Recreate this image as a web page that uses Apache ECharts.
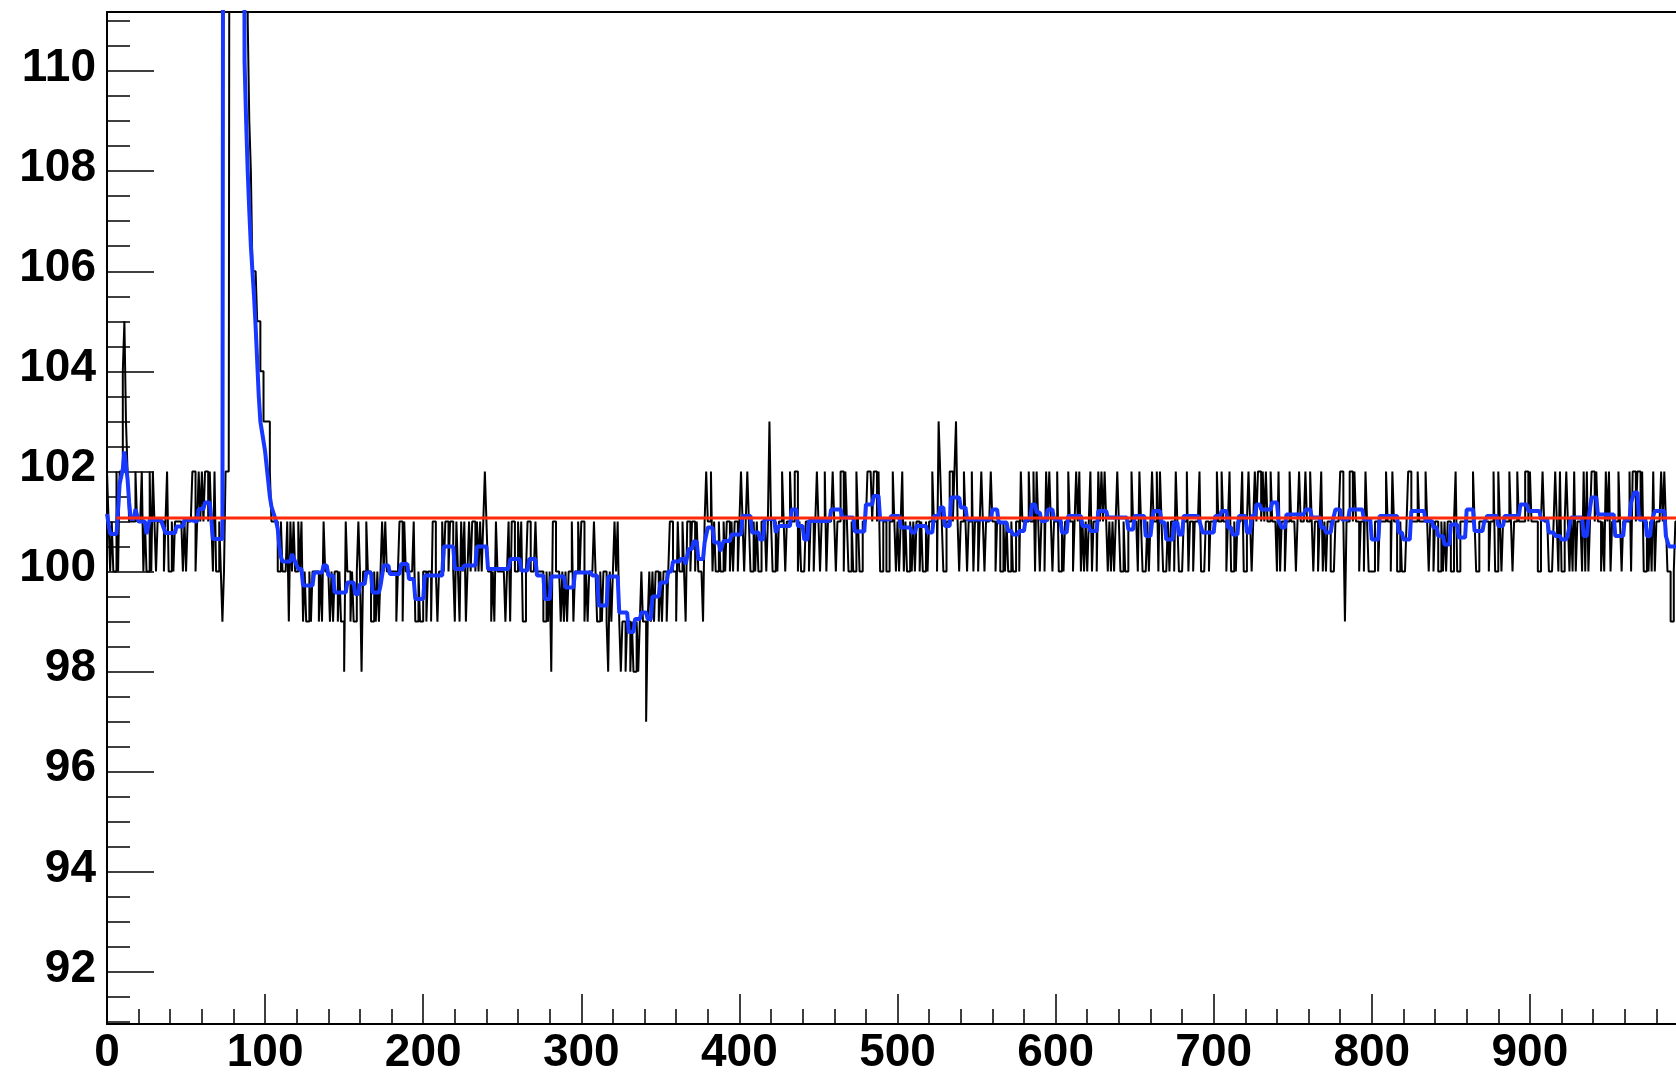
<!DOCTYPE html>
<html>
<head>
<meta charset="utf-8">
<title>baseline</title>
<script src="https://cdn.jsdelivr.net/npm/echarts@6/dist/echarts.min.js"></script>
<style>
  html, body { margin: 0; padding: 0; background: #fff; }
  #chart { width: 1676px; height: 1076px; }
</style>
</head>
<body>
<div id="chart"></div>
<script>
// black histogram, one char per bin (spaces ignored): value = 96 + base36 digit
// '4' = 100, '5' = 101, '6' = 102 ... 'f' = 111, 'z' = off scale
const blackRows = [
  [0,   '6545446466 8976555565 5564544646 5455554564 4545555545 4555664565 6566565464 45434666zz zzzzzzzzzf dcaaa99887'],
  [100, '7776555544 5444535454 4545343343 4444343544 4343443433 2544343345 4244544334 3434545444 4443455354 4444533433'],
  [200, '4434435543 4454554554 3543545345 4554545456 5443435444 4434535544 5453345544 4544443343 4255444343 4344534454'],
  [300, '5534344454 3343443243 4545323323 3232232343 3134343443 4344345544 3544543554 5545444356 5564544544 5455454554'],
  [400, '5654565445 4544555457 5445455654 5565566454 4455455456 5455645556 5455664654 4544654455 5666566564 4554455654'],
  [500, '5456454454 5455454454 5565547654 4556656754 5565455645 5456545556 5545544545 4454455465 5556556465 4554656545'],
  [600, '5644545565 5456564545 4564554656 5654545456 5445445565 5546544454 5655646544 4545546544 4556455455 5644455455'],
  [700, '5565565545 6445455564 4565456566 5656556555 4645545565 5545655565 5654554564 5455444555 6653556656 5545546544'],
  [800, '4455455556 5546554454 4456655556 5555654554 5544545455 4456445555 5555654455 5555455644 6545555654 5565555665'],
  [900, '6555544565 5544456546 4456545464 5554646456 6565545465 6455556545 5556466566 5644545464 5556565443 345']
];

// smoothed curve: [bin, value] where the level changes
const blueSteps = [
  [0,101.15],[2,100.75],[7,101.25],[8,101.75],[10,102.05],[11,102.4],[13,101.85],[14,101.38],[15,101.05],
  [18,101.25],[20,101.0],[25,100.75],[27,101.03],[35,100.95],[37,100.77],[44,100.9],[49,101.03],[54,101.0],
  [58,101.25],[62,101.38],[66,101.03],[67,100.65],[74,130],[87,110.2],[88,109],[89,108],[90,107.2],[91,106.5],
  [92,106],[93,105.5],[94,104.9],[95,104.2],[96,103.5],[97,103],[98,102.8],[99,102.6],[100,102.4],[101,102.1],
  [102,101.8],[103,101.5],[104,101.3],[105,101.2],[107,101.0],[108,100.85],[109,100.5],[110,100.3],[111,100.2],
  [117,100.35],[119,100.2],[121,100.05],[124,99.72],[131,99.98],[137,100.12],[140,99.92],[144,99.58],[152,99.78],
  [157,99.55],[160,99.75],[164,99.98],[168,99.58],[173,99.72],[175,100.12],[179,99.95],[186,100.15],[191,99.85],
  [195,99.45],[201,99.92],[213,100.5],[220,100.05],[226,100.12],[234,100.5],[241,100.05],[255,100.25],[262,100.02],
  [267,100.25],[272,99.92],[277,99.45],[281,99.9],[290,99.68],[296,99.98],[307,99.92],[311,99.32],[317,99.9],
  [324,99.18],[330,98.79],[334,99.05],[338,99.18],[342,99.05],[345,99.5],[350,99.78],[355,100.0],[358,100.2],
  [363,100.25],[366,100.15],[368,100.45],[371,100.6],[374,100.25],[378,100.58],[380,100.88],[384,100.58],
  [388,100.41],[390,100.61],[395,100.74],[402,101.11],[408,100.78],[413,100.64],[416,101.05],[423,100.78],
  [425,100.91],[433,101.24],[437,100.91],[441,100.64],[444,101.01],[458,101.24],[465,101.08],[473,100.8],
  [480,101.34],[485,101.51],[489,101.04],[496,101.11],[502,100.88],[509,100.78],[512,100.91],[519,100.78],
  [523,101.11],[527,101.28],[530,100.91],[534,101.48],[540,101.28],[544,101.04],[560,101.24],[564,100.98],
  [570,100.81],[573,100.74],[577,100.81],[581,101.04],[585,101.34],[588,101.18],[591,101.01],[595,101.24],
  [599,101.04],[604,100.78],[608,101.11],[617,100.91],[622,100.81],[627,101.21],[633,101.08],[646,100.84],
  [650,101.11],[657,100.71],[661,101.0],[662,101.21],[667,100.98],[670,100.64],[675,100.98],[678,100.74],
  [681,101.11],[691,101.01],[693,100.78],[701,101.11],[705,101.21],[709,100.88],[712,100.74],[716,101.11],
  [721,100.78],[724,101.11],[727,101.34],[730,101.24],[737,101.38],[741,101.01],[743,100.88],[746,101.14],
  [758,101.24],[762,101.08],[768,100.88],[771,100.78],[775,100.98],[777,101.24],[781,101.04],[786,101.24],
  [795,101.04],[800,100.64],[805,101.11],[817,100.78],[820,100.64],[825,101.21],[834,101.01],[839,100.88],
  [842,100.71],[846,100.54],[850,100.94],[855,100.68],[860,101.24],[865,100.81],[871,100.98],[873,101.11],
  [880,100.91],[884,101.11],[894,101.34],[899,101.21],[907,101.04],[912,100.78],[916,100.71],[920,100.64],
  [924,100.74],[926,101.08],[934,100.71],[937,101.04],[939,101.48],[943,101.14],[954,100.71],[960,101.04],
  [964,101.38],[966,101.58],[969,101.04],[974,100.71],[977,101.0],[979,101.21],[986,100.71],[988,100.5],[993,100.5]
];

// fitted constant
const fitLevel = 101.07;
const fitRange = [6, 1000];

// axes
const xRange = [0, 992.4];
const yRange = [90.96, 111.18];
const xMajor = [0, 100, 200, 300, 400, 500, 600, 700, 800, 900];
const yMajor = [92, 94, 96, 98, 100, 102, 104, 106, 108, 110];

const xMinor = [];
for (let v = 20; v < xRange[1]; v += 20) if (v % 100 !== 0) xMinor.push(v);
const yMinor = [];
for (let v = 91; v < yRange[1]; v += 0.5) if (v % 2 !== 0) yMinor.push(v);

function buildBlack() {
  const pts = [];
  blackRows.forEach(([start, s]) => {
    const chars = s.replace(/\s+/g, '');
    for (let i = 0; i < chars.length; i++) {
      pts.push([start + i, 96 + parseInt(chars[i], 36)]);
    }
  });
  const last = pts[pts.length - 1];
  pts.push([last[0] + 1, last[1]]);
  return pts;
}

// each level is held until one bin before the next change, then the line
// slopes across that bin (polyline through bin values, as drawn in the original)
function buildBlue() {
  const pts = [];
  blueSteps.forEach(([b, v], i) => {
    pts.push([b, v]);
    const next = blueSteps[i + 1];
    if (next && next[0] - 1 > b) pts.push([next[0] - 1, v]);
  });
  return pts;
}

const labelFont = {
  color: '#000',
  fontSize: 46,
  fontWeight: 'bold',
  fontFamily: '"Liberation Sans", Arial, Helvetica, sans-serif'
};
const axisLine = { show: true, lineStyle: { color: '#000', width: 2 } };

const chart = echarts.init(document.getElementById('chart'), null, { renderer: 'canvas' });
chart.setOption({
  animation: false,
  backgroundColor: '#fff',
  grid: { left: 107, right: 0, top: 12, bottom: 50, containLabel: false },
  xAxis: [
    {
      type: 'value', min: xRange[0], max: xRange[1], position: 'bottom',
      axisLine: axisLine,
      axisTick: { show: true, inside: true, length: 30, customValues: xMajor, lineStyle: { color: '#000', width: 1.5 } },
      axisLabel: Object.assign({ show: true, margin: 6, customValues: xMajor }, labelFont),
      splitLine: { show: false }
    },
    {
      type: 'value', min: xRange[0], max: xRange[1], position: 'bottom',
      axisLine: { show: false },
      axisTick: { show: true, inside: true, length: 15, customValues: xMinor, lineStyle: { color: '#000', width: 1.5 } },
      axisLabel: { show: false },
      splitLine: { show: false }
    },
    {
      type: 'value', min: xRange[0], max: xRange[1], position: 'top',
      axisLine: axisLine,
      axisTick: { show: false },
      axisLabel: { show: false },
      splitLine: { show: false }
    }
  ],
  yAxis: [
    {
      type: 'value', min: yRange[0], max: yRange[1], position: 'left',
      axisLine: axisLine,
      axisTick: { show: true, inside: true, length: 47, customValues: yMajor, lineStyle: { color: '#000', width: 1.5 } },
      axisLabel: Object.assign({ show: true, margin: 11, verticalAlign: 'bottom', lineHeight: 6, customValues: yMajor }, labelFont),
      splitLine: { show: false }
    },
    {
      type: 'value', min: yRange[0], max: yRange[1], position: 'left',
      axisLine: { show: false },
      axisTick: { show: true, inside: true, length: 23, customValues: yMinor, lineStyle: { color: '#000', width: 1.5 } },
      axisLabel: { show: false },
      splitLine: { show: false }
    }
  ],
  series: [
    {
      name: 'data', type: 'line', step: 'end', data: buildBlack(),
      showSymbol: false, symbol: 'none', clip: true,
      lineStyle: { color: '#000', width: 2 }, z: 2
    },
    {
      name: 'smooth', type: 'line', data: buildBlue(),
      showSymbol: false, symbol: 'none', clip: true,
      lineStyle: { color: '#1838ff', width: 4 }, z: 3
    },
    {
      name: 'fit', type: 'line',
      data: [[fitRange[0], fitLevel], [fitRange[1], fitLevel]],
      showSymbol: false, symbol: 'none', clip: true,
      lineStyle: { color: '#ff2a0a', width: 3 }, z: 4
    }
  ]
});
</script>
</body>
</html>
